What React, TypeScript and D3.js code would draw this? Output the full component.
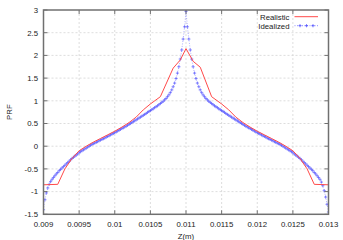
import React from 'react'
import * as d3 from 'd3'

// tick values
const xTicks = [0.009, 0.0095, 0.01, 0.0105, 0.011, 0.0115, 0.012, 0.0125, 0.013]
const yTicks = [-1.5, -1, -0.5, 0, 0.5, 1, 1.5, 2, 2.5, 3]

// Realistic profile (red)
const zReal = [0.009, 0.0092, 0.0093, 0.0094, 0.0095, 0.0096, 0.0097, 0.0098, 0.0099, 0.01,
  0.0101, 0.0102, 0.0103, 0.0104, 0.0105, 0.01064, 0.01082, 0.01092, 0.011, 0.0111,
  0.0112, 0.01136, 0.0115, 0.0116, 0.0117, 0.0118, 0.0119, 0.012, 0.0121, 0.0122,
  0.0123, 0.0124, 0.0125, 0.0126, 0.0127, 0.0128, 0.013]
const prfReal = [-0.85, -0.84, -0.5, -0.27, -0.1, 0.0, 0.09, 0.17, 0.25, 0.33,
  0.42, 0.52, 0.64, 0.8, 0.93, 1.09, 1.72, 1.9, 2.15, 1.87,
  1.74, 1.09, 0.93, 0.8, 0.64, 0.52, 0.42, 0.33, 0.25, 0.17,
  0.09, 0.0, -0.1, -0.27, -0.5, -0.84, -0.85]

// Idealized profile (blue), sampled every 0.00002 from 0.009 to 0.013
const prfIdeal = [
  -1.4, -1.18, -1.03, -0.92, -0.84, -0.78, -0.73, -0.69, -0.65, -0.61,
  -0.58, -0.54, -0.51, -0.48, -0.45, -0.42, -0.39, -0.36, -0.33, -0.3,
  -0.27, -0.245, -0.22, -0.195, -0.17, -0.145, -0.12, -0.1, -0.08, -0.06,
  -0.04, -0.02, 0.0, 0.02, 0.04, 0.055, 0.07, 0.085, 0.1, 0.12,
  0.135, 0.15, 0.165, 0.18, 0.2, 0.215, 0.23, 0.25, 0.265, 0.28,
  0.3, 0.315, 0.335, 0.35, 0.37, 0.39, 0.405, 0.425, 0.44, 0.46,
  0.48, 0.5, 0.52, 0.54, 0.56, 0.58, 0.6, 0.62, 0.64, 0.66,
  0.68, 0.7, 0.72, 0.745, 0.765, 0.785, 0.805, 0.825, 0.85, 0.87,
  0.89, 0.915, 0.94, 0.965, 0.99, 1.02, 1.05, 1.09, 1.13, 1.18,
  1.24, 1.31, 1.39, 1.49, 1.61, 1.75, 1.92, 2.12, 2.36, 2.63,
  2.97,
  2.63, 2.36, 2.12, 1.92, 1.75, 1.61, 1.49, 1.39, 1.31, 1.24,
  1.18, 1.13, 1.09, 1.05, 1.02, 0.99, 0.965, 0.94, 0.915, 0.89,
  0.87, 0.85, 0.825, 0.805, 0.785, 0.765, 0.745, 0.72, 0.7, 0.68,
  0.66, 0.64, 0.62, 0.6, 0.58, 0.56, 0.54, 0.52, 0.5, 0.48,
  0.46, 0.44, 0.425, 0.405, 0.39, 0.37, 0.35, 0.335, 0.315, 0.3,
  0.28, 0.265, 0.25, 0.23, 0.215, 0.2, 0.18, 0.165, 0.15, 0.135,
  0.12, 0.1, 0.085, 0.07, 0.055, 0.04, 0.02, 0.0, -0.02, -0.04,
  -0.06, -0.08, -0.1, -0.12, -0.145, -0.17, -0.195, -0.22, -0.245, -0.27,
  -0.3, -0.33, -0.36, -0.39, -0.42, -0.45, -0.48, -0.51, -0.54, -0.58,
  -0.61, -0.65, -0.69, -0.73, -0.79, -0.87, -0.98, -1.12, -1.28, -1.45
]
const zIdeal = prfIdeal.map((_, i) => 0.009 + i * 0.00002)

const W = 343
const H = 240
const left = 43.5
const right = 328.5
const top = 10
const bottom = 214.3
const font = '"Liberation Sans", Arial, sans-serif'
const fs = 7.8
const frameColor = '#707070'
const red = '#ff4a4a'
const blue = '#4545ff'

const x = d3.scaleLinear().domain([0.009, 0.013]).range([left, right])
const y = d3.scaleLinear().domain([-1.5, 3]).range([bottom, top])

const fmt = (v: number) => String(+v.toFixed(4))

const Plus = ({ cx, cy, s = 1.6 }: { cx: number, cy: number, s?: number }) => (
  <path d={`M${cx - s},${cy}H${cx + s}M${cx},${cy - s}V${cy + s}`} stroke={blue} strokeWidth={0.7} />
)

export default function App() {
  const realLine = d3.line<number>().x((_, i) => x(zReal[i])).y(d => y(d))(prfReal) || ''
  const idealLine = d3.line<number>().x((_, i) => x(zIdeal[i])).y(d => y(d))(prfIdeal) || ''

  return (
    <div>
      <style>{'body{margin:0}'}</style>
      <svg width={W} height={H} style={{ display: 'block', background: '#fff' }}>
        <defs>
          <clipPath id="plot">
            <rect x={left} y={top} width={right - left} height={bottom - top} />
          </clipPath>
        </defs>

        {/* grid */}
        <g stroke="#d4d4d4" strokeWidth={0.8} strokeDasharray="2,2">
          {xTicks.slice(1, -1).map(t => <line key={'gx' + t} x1={x(t)} x2={x(t)} y1={top} y2={bottom} />)}
          {yTicks.slice(1, -1).map(t => <line key={'gy' + t} x1={left} x2={right} y1={y(t)} y2={y(t)} />)}
        </g>

        {/* series */}
        <g clipPath="url(#plot)">
          <path d={idealLine} fill="none" stroke={blue} strokeWidth={0.6} strokeDasharray="1,1.5" opacity={0.7} />
          <g opacity={0.85}>
            {prfIdeal.map((v, i) => <Plus key={'p' + i} cx={x(zIdeal[i])} cy={y(v)} />)}
          </g>
          <path d={realLine} fill="none" stroke={red} strokeWidth={1} />
        </g>

        {/* frame and ticks */}
        <g stroke={frameColor} strokeWidth={1}>
          {xTicks.map(t => (
            <g key={'tx' + t}>
              <line x1={x(t)} x2={x(t)} y1={bottom} y2={bottom - 4} />
              <line x1={x(t)} x2={x(t)} y1={top} y2={top + 4} />
            </g>
          ))}
          {yTicks.map(t => (
            <g key={'ty' + t}>
              <line x1={left} x2={left + 4} y1={y(t)} y2={y(t)} />
              <line x1={right} x2={right - 4} y1={y(t)} y2={y(t)} />
            </g>
          ))}
        </g>
        <rect x={left} y={top} width={right - left} height={bottom - top} fill="none" stroke={frameColor} strokeWidth={1.5} />

        {/* tick labels */}
        <g fontFamily={font} fontSize={fs} fill="#222">
          {xTicks.map(t => (
            <text key={'lx' + t} x={x(t)} y={227} textAnchor="middle">{fmt(t)}</text>
          ))}
          {yTicks.map(t => (
            <text key={'ly' + t} x={38} y={y(t) + 2.8} textAnchor="end">{fmt(t)}</text>
          ))}
          <text x={(left + right) / 2} y={238.5} textAnchor="middle">Z(m)</text>
          <text transform={`translate(12,${(top + bottom) / 2}) rotate(-90)`} textAnchor="middle">PRF</text>
        </g>

        {/* legend */}
        <g fontFamily={font} fontSize={fs} fill="#222">
          <text x={289.5} y={19.5} textAnchor="end">Realistic</text>
          <line x1={294.5} x2={318} y1={16.7} y2={16.7} stroke={red} strokeWidth={1} />
          <text x={289.5} y={28.5} textAnchor="end">Idealized</text>
          <line x1={294.5} x2={318} y1={25.7} y2={25.7} stroke={blue} strokeWidth={0.6} strokeDasharray="1,1.5" />
          {[300, 306.5, 313].map(px => <Plus key={'lg' + px} cx={px} cy={25.7} />)}
        </g>
      </svg>
    </div>
  )
}
